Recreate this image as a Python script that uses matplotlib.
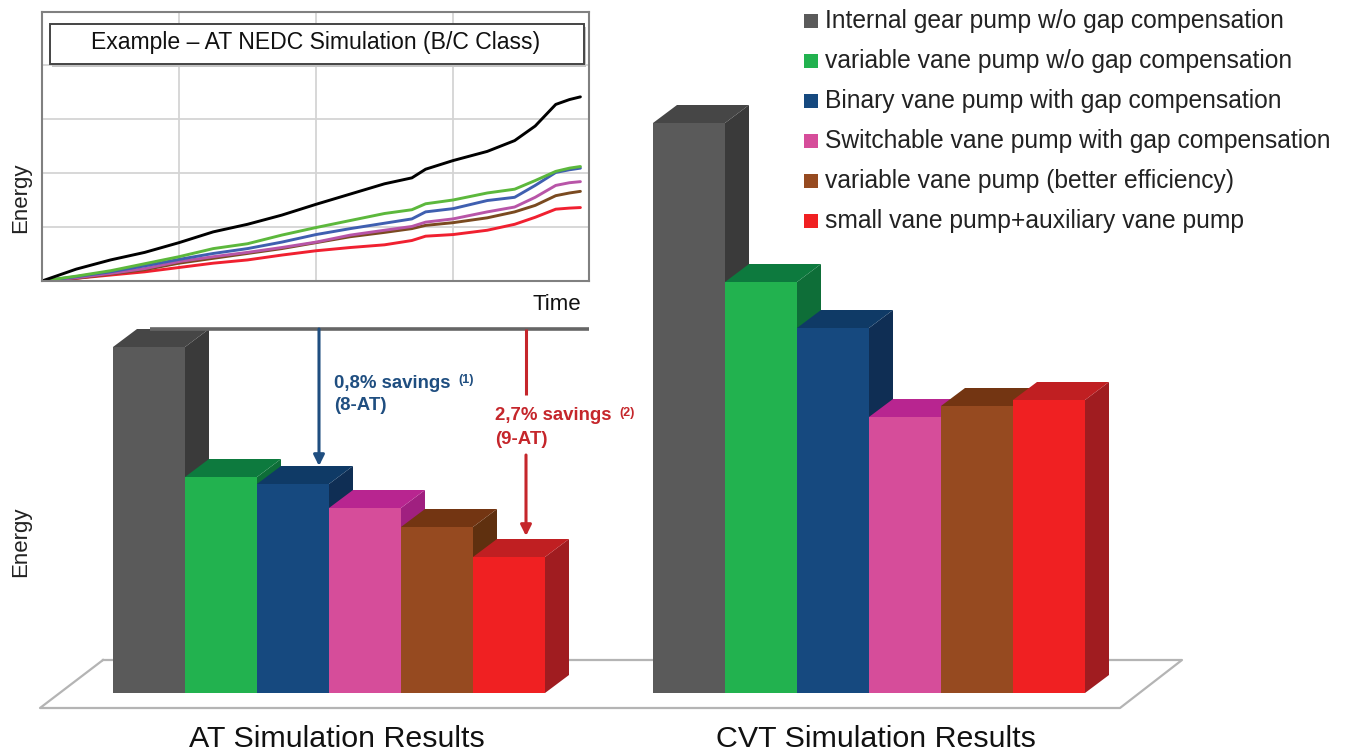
import matplotlib
matplotlib.use("Agg")
import matplotlib.pyplot as plt
from matplotlib.patches import Rectangle

plt.rcParams['font.family'] = ['Liberation Sans', 'DejaVu Sans']

# bar heights (arbitrary energy units, no scale shown)
at_energy = [346, 216, 209, 185, 166, 136]
cvt_energy = [570, 411, 365, 276, 287, 293]

pump_names = ["Internal gear pump w/o gap compensation",
              "variable vane pump w/o gap compensation",
              "Binary vane pump with gap compensation",
              "Switchable vane pump with gap compensation",
              "variable vane pump (better efficiency)",
              "small vane pump+auxiliary vane pump"]

front = ['#5a5a5a', '#22b24f', '#16497f', '#d64d9a', '#964a20', '#f02022']
top = ['#464646', '#0d7a3e', '#0f3a66', '#b82590', '#733512', '#c01f22']
side = ['#3a3a3a', '#0e6e38', '#0f2e54', '#a02080', '#5f300f', '#a01c20']
line_cols = ['#000000', '#5cb83c', '#3f5fb0', '#b855a8', '#7a4a20', '#f02030']

# NEDC lines, x in grid cells of time, y in grid cells of energy
t = [0, .25, .5, .75, 1, 1.25, 1.5, 1.75, 2, 2.25, 2.5, 2.7, 2.8, 3, 3.25, 3.45, 3.6, 3.75, 3.85, 3.93]
black = [0, .22, .39, .53, .71, .91, 1.05, 1.22, 1.42, 1.61, 1.80, 1.91, 2.07, 2.23, 2.40, 2.60, 2.87, 3.27, 3.36, 3.41]
green = [0, .09, .19, .32, .45, .60, .69, .85, .99, 1.12, 1.25, 1.32, 1.43, 1.50, 1.63, 1.70, 1.86, 2.03, 2.09, 2.12]
blue = [0, .08, .17, .28, .40, .51, .60, .72, .86, .97, 1.07, 1.15, 1.28, 1.34, 1.49, 1.55, 1.77, 2.01, 2.06, 2.09]
magenta = [0, .06, .14, .23, .36, .45, .53, .62, .72, .85, .94, 1.01, 1.09, 1.15, 1.28, 1.37, 1.55, 1.77, 1.82, 1.84]
brown = [0, .05, .13, .21, .33, .42, .51, .60, .71, .82, .90, .97, 1.03, 1.08, 1.17, 1.28, 1.40, 1.58, 1.63, 1.66]
red = [0, .05, .11, .17, .25, .33, .39, .48, .56, .62, .67, .75, .83, .86, .94, 1.05, 1.18, 1.33, 1.35, 1.36]
curves = [black, green, blue, magenta, brown, red]

fig = plt.figure(figsize=(13.5, 7.54), dpi=100)

# whole figure axes, y=0 is the bar baseline, units are pixels
ax = fig.add_axes([0, 0, 1, 1])
ax.set_xlim(0, 1350)
ax.set_ylim(693 - 754, 693)
ax.axis('off')

def Y(py):
    return 693 - py

# floor
ax.plot([103, 40, 1120, 1182, 103], [Y(660), Y(708), Y(708), Y(660), Y(660)], color='#b4b4b4', lw=1.6, zorder=1)

w = 72
dx = 24
dy = 18

def bars3d(x0, values):
    for i, v in enumerate(values):
        x = x0 + i * w
        ax.fill([x + w, x + w + dx, x + w + dx, x + w], [0, dy, v + dy, v], color=side[i], lw=0, zorder=2 + i)
        ax.fill([x, x + dx, x + w + dx, x + w], [v, v + dy, v + dy, v], color=top[i], lw=0, zorder=2 + i)
        ax.bar(x, v, w, align='edge', color=front[i], lw=0, zorder=2 + i)

bars3d(113, at_energy)
bars3d(653, cvt_energy)

# reference line and savings arrows
ax.plot([150, 589], [Y(329), Y(329)], color='#666666', lw=2.6, zorder=20, solid_capstyle='butt')
blue_c = '#1f4e80'
red_c = '#c5262b'
ax.annotate('', xy=(319, Y(466)), xytext=(319, Y(329)), zorder=21,
            arrowprops=dict(arrowstyle='-|>', color=blue_c, lw=2.2, mutation_scale=16, shrinkA=0, shrinkB=0))
ax.plot([526, 526], [Y(329), Y(395)], color=red_c, lw=2.2, zorder=21, solid_capstyle='butt')
ax.annotate('', xy=(526, Y(536)), xytext=(526, Y(455)), zorder=21,
            arrowprops=dict(arrowstyle='-|>', color=red_c, lw=2.2, mutation_scale=16, shrinkA=0, shrinkB=0))

ax.text(334, Y(383), "0,8% savings", color=blue_c, fontsize=13.4, fontweight='bold', va='center')
ax.text(458, Y(380), "(1)", color=blue_c, fontsize=9, fontweight='bold', va='center')
ax.text(334, Y(406), "(8-AT)", color=blue_c, fontsize=13.4, fontweight='bold', va='center')
ax.text(495, Y(416), "2,7% savings", color=red_c, fontsize=13.4, fontweight='bold', va='center')
ax.text(619, Y(413), "(2)", color=red_c, fontsize=9, fontweight='bold', va='center')
ax.text(495, Y(439), "(9-AT)", color=red_c, fontsize=13.4, fontweight='bold', va='center')

ax.text(337, Y(739), "AT Simulation Results", fontsize=21.9, ha='center', va='center', color='#111111')
ax.text(876, Y(739), "CVT Simulation Results", fontsize=21.9, ha='center', va='center', color='#111111')
ax.text(21, Y(542), "Energy", fontsize=16, rotation=90, ha='center', va='center', color='#222222')
ax.text(21, Y(198), "Energy", fontsize=16, rotation=90, ha='center', va='center', color='#222222')
ax.text(557, Y(305), "Time", fontsize=16, ha='center', va='center', color='#111111')

# legend
for i, name in enumerate(pump_names):
    py = 21 + i * 40
    ax.add_patch(Rectangle((804, Y(py + 7)), 14, 14, color=front[i], lw=0))
    ax.text(825, Y(py), name, fontsize=17.7, va='center', color='#222222')

# inset line chart
ins = fig.add_axes([42 / 1350, 1 - 281 / 754, 547 / 1350, 269 / 754])
ins.set_xlim(0, 547 / 137)
ins.set_ylim(0, 269 / 54)
ins.set_xticks([1, 2, 3])
ins.set_yticks([1, 2, 3, 4])
ins.tick_params(length=0, labelbottom=False, labelleft=False)
ins.grid(True, color='#d4d4d4', lw=1.3)
ins.set_axisbelow(True)
for s in ins.spines.values():
    s.set_color('#808080')
    s.set_linewidth(1.5)
for y, c in zip(curves[::-1], line_cols[::-1]):
    ins.plot(t, y, color=c, lw=2.1, solid_capstyle='round')

# title box with shadow
ins2 = fig.add_axes([0, 0, 1, 1], facecolor='none')
ins2.set_xlim(0, 1350)
ins2.set_ylim(754, 0)
ins2.axis('off')
ins2.add_patch(Rectangle((52, 27), 534, 40, color='#c4c4c4', lw=0))
ins2.add_patch(Rectangle((50, 24), 534, 40, facecolor='white', edgecolor='#444444', lw=1.4))
ins2.text(316, 43, "Example \u2013 AT NEDC Simulation (B/C Class)", fontsize=16.6, ha='center', va='center', color='#111111')

fig.savefig('out.png', dpi=100)
